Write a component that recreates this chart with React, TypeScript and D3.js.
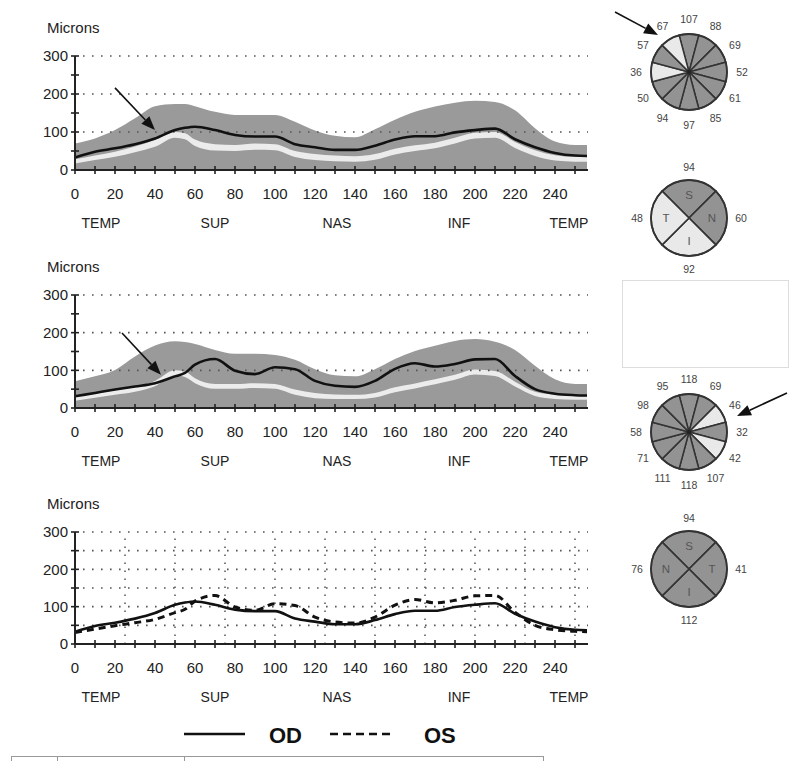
import React from 'react';
import * as d3 from 'd3';

// ---- data ----
const positions = [0, 10, 20, 30, 40, 50, 55, 60, 70, 80, 90, 100, 110, 120, 130, 140, 150, 160, 170, 180, 190, 200, 210, 220, 230, 240, 250, 256];

// OD (chart 1)
const normalUpperOD = [70, 83, 105, 136, 168, 174, 174, 168, 153, 145, 145, 145, 127, 104, 90, 86, 107, 132, 153, 167, 177, 182, 179, 157, 110, 75, 66, 66];
const borderTopOD = [28, 38, 48, 62, 79, 100, 97, 80, 68, 66, 70, 68, 50, 42, 38, 36, 42, 56, 65, 72, 85, 98, 100, 74, 52, 39, 35, 35];
const borderBottomOD = [17, 26, 35, 47, 61, 85, 81, 63, 51, 50, 53, 52, 34, 26, 23, 22, 27, 41, 50, 57, 70, 83, 85, 58, 37, 25, 22, 22];
const thicknessOD = [33, 48, 57, 68, 83, 105, 111, 114, 105, 92, 88, 88, 68, 60, 53, 53, 64, 80, 89, 89, 99, 105, 109, 81, 60, 45, 38, 37];

// OS (chart 2)
const normalUpperOS = [71, 84, 101, 137, 166, 177, 175, 170, 154, 144, 144, 141, 128, 103, 87, 84, 103, 130, 151, 165, 178, 183, 176, 154, 112, 76, 64, 64];
const borderTopOS = [30, 38, 47, 56, 72, 100, 97, 79, 64, 64, 66, 64, 49, 40, 36, 35, 40, 55, 65, 76, 88, 102, 98, 70, 43, 35, 32, 31];
const borderBottomOS = [19, 27, 35, 43, 58, 87, 82, 66, 51, 51, 53, 51, 35, 26, 24, 24, 28, 42, 52, 63, 75, 89, 85, 57, 32, 24, 22, 22];
const thicknessOS = [31, 40, 49, 57, 66, 84, 93, 115, 130, 99, 90, 108, 103, 72, 59, 56, 72, 104, 119, 110, 117, 129, 130, 85, 50, 38, 34, 33];

const xMinorTicks = [0, 10, 20, 30, 40, 50, 60, 70, 80, 90, 100, 110, 120, 130, 140, 150, 160, 170, 180, 190, 200, 210, 220, 230, 240, 250];
const xTickLabels = [0, 20, 40, 60, 80, 100, 120, 140, 160, 180, 200, 220, 240];
const yTicks = [0, 50, 100, 150, 200, 250, 300];
const yTickLabels = [0, 100, 200, 300];
const yGridMain = [100, 200, 300];
const yGridCompare = [50, 100, 150, 200, 250, 300];
const xGridCompare = [25, 50, 75, 100, 125, 150, 175, 200, 225, 250];
const regionNames = ['TEMP', 'SUP', 'NAS', 'INF', 'TEMP'];
const regionPositions = [13, 70, 131, 192, 247];

// clock hour charts (clockwise from 12 o'clock)
const clockOD = [107, 88, 69, 52, 61, 85, 97, 94, 50, 36, 57, 67];
const clockODLow = [false, false, false, false, false, false, false, false, false, true, false, true];
const clockOS = [118, 69, 46, 32, 42, 107, 118, 111, 71, 58, 98, 95];
const clockOSLow = [false, false, true, false, true, false, false, false, false, false, false, false];

// quadrant charts: top, right, bottom, left
const quadLettersOD = ['S', 'N', 'I', 'T'];
const quadOD = [94, 60, 92, 48];
const quadODLow = [false, false, true, true];
const quadLettersOS = ['S', 'T', 'I', 'N'];
const quadOS = [94, 41, 112, 76];
const quadOSLow = [false, false, false, false];

// ---- style ----
const FONT = "Arial, 'Liberation Sans', sans-serif";
const GREY = '#9a9a9a';
const LIGHT = '#ececec';
const SEG_DARK = '#939393';
const SEG_LIGHT = '#e9e9e9';
const INK = '#222';

const x = d3.scaleLinear().domain([0, 256]).range([75, 587]);

function Arrow({ x1, y1, x2, y2 }: { x1: number; y1: number; x2: number; y2: number }) {
  const a = Math.atan2(y2 - y1, x2 - x1);
  const L = 14, W = 5.5;
  const bx = x2 - L * Math.cos(a), by = y2 - L * Math.sin(a);
  const p1 = [bx + W * Math.sin(a), by - W * Math.cos(a)];
  const p2 = [bx - W * Math.sin(a), by + W * Math.cos(a)];
  return (
    <g>
      <line x1={x1} y1={y1} x2={bx} y2={by} stroke="#111" strokeWidth={1.6} />
      <polygon points={`${x2},${y2} ${p1[0]},${p1[1]} ${p2[0]},${p2[1]}`} fill="#111" />
    </g>
  );
}

type ChartProps = {
  y0: number;
  y300: number;
  compare?: boolean;
  upper?: number[];
  bTop?: number[];
  bBottom?: number[];
  line?: number[];
  arrow?: [number, number, number, number];
};

function TsnitChart({ y0, y300, compare, upper, bTop, bBottom, line, arrow }: ChartProps) {
  const y = d3.scaleLinear().domain([0, 300]).range([y0, y300]);
  const curve = d3.curveMonotoneX;
  const areaFrom = (vals: number[]) =>
    d3.area<number>().x((_, i) => x(positions[i])).y0(y(0)).y1((d) => y(d)).curve(curve)(vals) || '';
  const bandPath = (top: number[], bottom: number[]) =>
    d3.area<number>().x((_, i) => x(positions[i])).y0((_, i) => y(bottom[i])).y1((d) => y(d)).curve(curve)(top) || '';
  const linePath = (vals: number[]) =>
    d3.line<number>().x((_, i) => x(positions[i])).y((d) => y(d)).curve(curve)(vals) || '';
  const xEnd = x(256.5);
  const hGrid = compare ? yGridCompare : yGridMain;
  return (
    <g>
      <text x={47} y={y300 - 23} fontFamily={FONT} fontSize={15} fill={INK}>Microns</text>
      {upper && <path d={areaFrom(upper)} fill={GREY} />}
      {bTop && bBottom && <path d={bandPath(bTop, bBottom)} fill={LIGHT} />}
      {hGrid.map((v) => (
        <line key={'h' + v} x1={x(4)} x2={xEnd} y1={y(v)} y2={y(v)} stroke="#555" strokeWidth={1.6} strokeDasharray="1.6 7.4" />
      ))}
      {compare && xGridCompare.map((u) => (
        <line key={'v' + u} x1={x(u)} x2={x(u)} y1={y(0)} y2={y(300)} stroke="#555" strokeWidth={1.5} strokeDasharray="1.5 6.5" />
      ))}
      {compare ? (
        <g>
          <path d={linePath(thicknessOS)} fill="none" stroke="#111" strokeWidth={3} strokeDasharray="7 5" />
          <path d={linePath(thicknessOD)} fill="none" stroke="#111" strokeWidth={2.6} />
        </g>
      ) : (
        line && <path d={linePath(line)} fill="none" stroke="#111" strokeWidth={2.6} />
      )}
      {/* axes */}
      <line x1={x(0)} x2={x(0)} y1={y(0)} y2={y(300)} stroke={INK} strokeWidth={2} />
      <line x1={x(0)} x2={xEnd} y1={y(0)} y2={y(0)} stroke={INK} strokeWidth={2} />
      {yTicks.map((v) => (
        <line key={'yt' + v} x1={x(0) - 4} x2={x(0) + 4} y1={y(v)} y2={y(v)} stroke={INK} strokeWidth={1.6} />
      ))}
      {yTickLabels.map((v) => (
        <text key={'yl' + v} x={68} y={y(v)} dy="0.36em" textAnchor="end" fontFamily={FONT} fontSize={15} fill={INK}>{v}</text>
      ))}
      {xMinorTicks.map((u) => (
        <line key={'xt' + u} x1={x(u)} x2={x(u)} y1={y(0) - 4} y2={y(0) + 4} stroke={INK} strokeWidth={1.6} />
      ))}
      {xTickLabels.map((u) => (
        <text key={'xl' + u} x={x(u)} y={y0 + 28.5} textAnchor="middle" fontFamily={FONT} fontSize={15} fill={INK}>{u}</text>
      ))}
      {regionNames.map((r, i) => (
        <text key={'r' + i} x={x(regionPositions[i])} y={y0 + 58} textAnchor="middle" fontFamily={FONT} fontSize={14} fill={INK}>{r}</text>
      ))}
      {arrow && <Arrow x1={x(arrow[0])} y1={y(arrow[1])} x2={x(arrow[2])} y2={y(arrow[3])} />}
    </g>
  );
}

const R = 38;
const LABEL_R = 53;

function ClockChart({ cx, cy, values, low, arrow }: { cx: number; cy: number; values: number[]; low: boolean[]; arrow?: number[] }) {
  const arc = d3.arc<any>().innerRadius(0).outerRadius(R);
  const step = (2 * Math.PI) / 12;
  return (
    <g>
      <g transform={`translate(${cx},${cy})`}>
        {values.map((v, i) => (
          <path
            key={i}
            d={arc({ startAngle: i * step - step / 2, endAngle: i * step + step / 2 }) || ''}
            fill={low[i] ? SEG_LIGHT : SEG_DARK}
            stroke="#333"
            strokeWidth={1.5}
          />
        ))}
        <circle r={R} fill="none" stroke="#333" strokeWidth={1.8} />
        <circle r={2} fill="#222" />
        {values.map((v, i) => {
          const a = i * step;
          return (
            <text key={'t' + i} x={LABEL_R * Math.sin(a)} y={-LABEL_R * Math.cos(a)} dy="0.35em" textAnchor="middle" fontFamily={FONT} fontSize={10.5} fill="#444">{v}</text>
          );
        })}
      </g>
      {arrow && <Arrow x1={cx + arrow[0]} y1={cy + arrow[1]} x2={cx + arrow[2]} y2={cy + arrow[3]} />}
    </g>
  );
}

function QuadChart({ cx, cy, values, low, letters }: { cx: number; cy: number; values: number[]; low: boolean[]; letters: string[] }) {
  const arc = d3.arc<any>().innerRadius(0).outerRadius(R);
  const step = Math.PI / 2;
  return (
    <g transform={`translate(${cx},${cy})`}>
      {values.map((v, i) => (
        <path
          key={i}
          d={arc({ startAngle: i * step - step / 2, endAngle: i * step + step / 2 }) || ''}
          fill={low[i] ? SEG_LIGHT : SEG_DARK}
          stroke="#333"
          strokeWidth={1.6}
        />
      ))}
      <circle r={R} fill="none" stroke="#333" strokeWidth={1.8} />
      {letters.map((l, i) => {
        const a = i * step;
        return (
          <text key={'l' + i} x={23 * Math.sin(a)} y={-23 * Math.cos(a)} dy="0.36em" textAnchor="middle" fontFamily={FONT} fontSize={11.5} fill="#555">{l}</text>
        );
      })}
      {values.map((v, i) => {
        const a = i * step;
        return (
          <text key={'v' + i} x={52 * Math.sin(a)} y={-51 * Math.cos(a)} dy="0.35em" textAnchor="middle" fontFamily={FONT} fontSize={10.5} fill="#444">{v}</text>
        );
      })}
    </g>
  );
}

export default function App() {
  return (
    <svg width={800} height={769} style={{ position: 'absolute', left: 0, top: 0, background: '#fff' }}>
      <rect width={800} height={769} fill="#fff" />
      <TsnitChart y0={170} y300={56} upper={normalUpperOD} bTop={borderTopOD} bBottom={borderBottomOD} line={thicknessOD} arrow={[20, 216, 40, 105]} />
      <TsnitChart y0={408} y300={295} upper={normalUpperOS} bTop={borderTopOS} bBottom={borderBottomOS} line={thicknessOS} arrow={[23.5, 199, 43, 88]} />
      <TsnitChart y0={644} y300={532} compare />

      <ClockChart cx={689} cy={72} values={clockOD} low={clockODLow} arrow={[-74, -60, -31, -37]} />
      <QuadChart cx={689} cy={218} values={quadOD} low={quadODLow} letters={quadLettersOD} />
      <rect x={622.5} y={280.5} width={166} height={87} fill="none" stroke="#ddd" strokeWidth={1} />
      <ClockChart cx={689} cy={432} values={clockOS} low={clockOSLow} arrow={[98, -39, 48, -16]} />
      <QuadChart cx={689} cy={569} values={quadOS} low={quadOSLow} letters={quadLettersOS} />

      {/* legend */}
      <line x1={184} x2={245} y1={734} y2={734} stroke="#111" strokeWidth={2.6} />
      <text x={269} y={743} fontFamily={FONT} fontSize={22} fontWeight="bold" fill="#111">OD</text>
      <line x1={330} x2={393} y1={734} y2={734} stroke="#111" strokeWidth={2.6} strokeDasharray="8 5" />
      <text x={424} y={743} fontFamily={FONT} fontSize={22} fontWeight="bold" fill="#111">OS</text>

      {/* bottom rule */}
      <line x1={11} x2={543} y1={756.5} y2={756.5} stroke="#999" strokeWidth={1} />
      {[11, 57, 184, 543].map((t) => (
        <line key={t} x1={t + 0.5} x2={t + 0.5} y1={756} y2={761} stroke="#999" strokeWidth={1} />
      ))}
    </svg>
  );
}
